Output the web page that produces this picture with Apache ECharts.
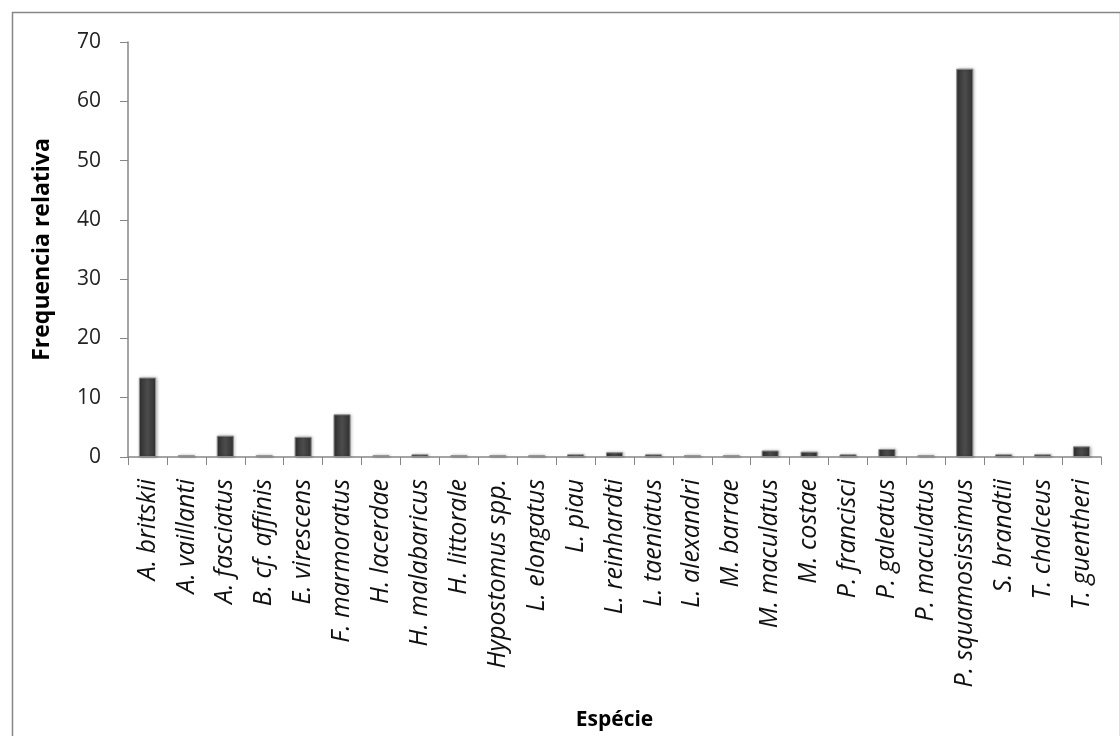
<!DOCTYPE html>
<html>
<head>
<meta charset="utf-8">
<script src="https://cdn.jsdelivr.net/npm/echarts@6/dist/echarts.min.js"></script>
<style>html,body{margin:0;padding:0;background:#fff}#c{width:1120px;height:736px}</style>
</head>
<body>
<div id="c"></div>
<script>
const categories = ["A. britskii","A. vaillanti","A. fasciatus","B. cf. affinis","E. virescens","F. marmoratus","H. lacerdae","H. malabaricus","H. littorale","Hypostomus spp.","L. elongatus","L. piau","L. reinhardti","L. taeniatus","L. alexandri","M. barrae","M. maculatus","M. costae","P. francisci","P. galeatus","P. maculatus","P. squamosissimus","S. brandtii","T. chalceus","T. guentheri"];
const values = [13.4,0.3,3.6,0.3,3.4,7.2,0.3,0.45,0.3,0.3,0.3,0.45,0.8,0.45,0.3,0.3,1.1,0.9,0.45,1.35,0.3,65.5,0.45,0.45,1.8];
const yTicks = [0,10,20,30,40,50,60,70];

const chart = echarts.init(document.getElementById('c'));
const dark = new echarts.graphic.LinearGradient(0,0,1,0,[{offset:0,color:'#303030'},{offset:0.5,color:'#4c4c4c'},{offset:1,color:'#303030'}]);
const light = new echarts.graphic.LinearGradient(0,0,1,0,[{offset:0,color:'#8a8a8a'},{offset:0.5,color:'#a8a8a8'},{offset:1,color:'#8a8a8a'}]);
const FONT = '"Open Sans", Lato, sans-serif';
chart.setOption({
  animation:false,
  backgroundColor:'#fff',
  graphic:[{type:'rect',left:10,top:10,shape:{width:1108,height:740},style:{fill:'none',stroke:'#868686',lineWidth:1.5},silent:true}],
  grid:{left:128,right:19,top:42,bottom:278,containLabel:false},
  xAxis:{
    type:'category',data:categories,
    axisLine:{lineStyle:{color:'#868686',width:1.5}},
    axisTick:{show:true,length:8,alignWithLabel:false,lineStyle:{color:'#868686'}},
    axisLabel:{rotate:90,interval:0,fontStyle:'italic',fontFamily:FONT,fontSize:25,color:'#111',margin:22},
    name:'Espécie',nameLocation:'middle',nameGap:253,
    nameTextStyle:{fontFamily:FONT,fontWeight:'bold',fontSize:21,color:'#000'}
  },
  yAxis:{
    type:'value',min:0,max:70,interval:10,
    axisLine:{show:true,lineStyle:{color:'#868686',width:1.5}},
    axisTick:{show:true,length:8,lineStyle:{color:'#868686'}},
    splitLine:{show:false},
    axisLabel:{fontFamily:FONT,fontSize:21,color:'#222',margin:27,
      formatter:v=>yTicks.includes(v)?String(v):''},
    name:'Frequencia relativa',nameLocation:'middle',nameGap:74,nameRotate:90,
    nameTextStyle:{fontFamily:FONT,fontWeight:'bold',fontSize:23,color:'#000'}
  },
  series:[{
    type:'bar',data:values,barWidth:'44%',
    itemStyle:{
      color:p=>p.value<0.4?light:dark,
      borderColor:'#8c8c8c',borderWidth:1,
      shadowColor:'rgba(0,0,0,0.25)',shadowBlur:3,shadowOffsetX:1
    }
  }]
});
</script>
</body>
</html>
